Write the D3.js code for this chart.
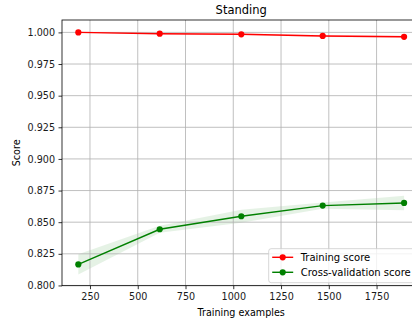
<!DOCTYPE html>
<html>
<head>
<meta charset="utf-8">
<script src="https://cdn.jsdelivr.net/npm/d3@7"></script>
<style>
  html, body { margin: 0; padding: 0; background: #fff; overflow: hidden; }
  svg { display: block; font-family: "DejaVu Sans", sans-serif; }
</style>
</head>
<body>
<svg id="chart" width="412" height="324"></svg>
<script>
var trainSizes = [189, 615, 1042, 1468, 1894];
var trainMean = [1.000, 0.9990, 0.9985, 0.9972, 0.9965];
var trainStd = [0.0002, 0.0005, 0.0006, 0.0008, 0.0009];
var testMean = [0.8166, 0.8444, 0.8547, 0.8631, 0.8652];
var testStd = [0.0080, 0.0028, 0.0052, 0.0024, 0.0057];
var xTicks = [250, 500, 750, 1000, 1250, 1500, 1750];
var yTicks = [0.800, 0.825, 0.850, 0.875, 0.900, 0.925, 0.950, 0.975, 1.000];
var seriesNames = ['Training score', 'Cross-validation score'];
var seriesColors = ['#ff0000', '#008000'];

// plot box (right edge falls outside the picture, as in the original)
var plotLeft = 62, plotTop = 20, plotRight = 420.4, plotBottom = 285.7;

var svg = d3.select('#chart');

var x = d3.scaleLinear().domain([103.6, 1979.4]).range([plotLeft, plotRight]);
var y = d3.scaleLinear().domain([0.7998, 1.0098]).range([plotBottom, plotTop]);

function rows(mean, std) {
  return trainSizes.map(function (s, i) {
    return { x: s, y: mean[i], lo: mean[i] - std[i], hi: mean[i] + std[i] };
  });
}

var series = [rows(trainMean, trainStd), rows(testMean, testStd)];

var area = d3.area()
  .x(function (d) { return x(d.x); })
  .y0(function (d) { return y(d.lo); })
  .y1(function (d) { return y(d.hi); });

var line = d3.line()
  .x(function (d) { return x(d.x); })
  .y(function (d) { return y(d.y); });

// bands first, grid over them
series.forEach(function (data, i) {
  svg.append('path').attr('d', area(data))
    .attr('fill', seriesColors[i]).attr('fill-opacity', 0.1);
});

var grid = svg.append('g').attr('stroke', '#b0b0b0').attr('stroke-width', 0.8);
grid.selectAll('.gx').data(xTicks).enter().append('line')
  .attr('x1', function (d) { return x(d); }).attr('x2', function (d) { return x(d); })
  .attr('y1', plotTop).attr('y2', plotBottom);
grid.selectAll('.gy').data(yTicks).enter().append('line')
  .attr('y1', function (d) { return y(d); }).attr('y2', function (d) { return y(d); })
  .attr('x1', plotLeft).attr('x2', plotRight);

series.forEach(function (data, i) {
  svg.append('path').attr('d', line(data))
    .attr('fill', 'none').attr('stroke', seriesColors[i]).attr('stroke-width', 1.45);
  svg.selectAll(null).data(data).enter().append('circle')
    .attr('cx', function (d) { return x(d.x); })
    .attr('cy', function (d) { return y(d.y); })
    .attr('r', 3.1)
    .attr('fill', seriesColors[i]);
});

// axes
var xAxis = d3.axisBottom(x).tickValues(xTicks).tickSize(3.5).tickPadding(3.5)
  .tickFormat(d3.format('d'));
var yAxis = d3.axisLeft(y).tickValues(yTicks).tickSize(3.5).tickPadding(3.5)
  .tickFormat(d3.format('.3f'));

var gx = svg.append('g').attr('transform', 'translate(0,' + plotBottom + ')').call(xAxis);
var gy = svg.append('g').attr('transform', 'translate(' + plotLeft + ',0)').call(yAxis);
[gx, gy].forEach(function (g) {
  g.select('.domain').remove();
  g.selectAll('.tick line').attr('stroke', '#000').attr('stroke-width', 0.8);
  g.selectAll('.tick text').attr('fill', '#1a1a1a').style('font-size', '9.6px')
    .style('font-family', '"DejaVu Sans", sans-serif');
});

svg.append('rect')
  .attr('x', plotLeft).attr('y', plotTop)
  .attr('width', plotRight - plotLeft).attr('height', plotBottom - plotTop)
  .attr('fill', 'none').attr('stroke', '#000').attr('stroke-width', 0.8);

svg.append('text').attr('x', (plotLeft + plotRight) / 2).attr('y', 14)
  .attr('text-anchor', 'middle').style('font-size', '11.5px').text('Standing');
svg.append('text').attr('x', (plotLeft + plotRight) / 2).attr('y', 316)
  .attr('text-anchor', 'middle').style('font-size', '9.6px').text('Training examples');
svg.append('text')
  .attr('transform', 'translate(20,' + ((plotTop + plotBottom) / 2) + ') rotate(-90)')
  .attr('text-anchor', 'middle').style('font-size', '9.6px').text('Score');

// legend
var legend = svg.append('g').attr('transform', 'translate(268.7,248.7)');
legend.append('rect')
  .attr('width', 152).attr('height', 34).attr('rx', 2.5)
  .attr('fill', '#fff').attr('fill-opacity', 0.8)
  .attr('stroke', '#cccccc').attr('stroke-width', 0.8);
seriesNames.forEach(function (name, i) {
  var row = legend.append('g').attr('transform', 'translate(0,' + (8.6 + i * 15) + ')');
  row.append('line').attr('x1', 3.5).attr('x2', 24.5)
    .attr('stroke', seriesColors[i]).attr('stroke-width', 1.45);
  row.append('circle').attr('cx', 14).attr('r', 3.1).attr('fill', seriesColors[i]);
  row.append('text').attr('x', 32).attr('dy', '0.35em')
    .style('font-size', '10px').text(name);
});
</script>
</body>
</html>
